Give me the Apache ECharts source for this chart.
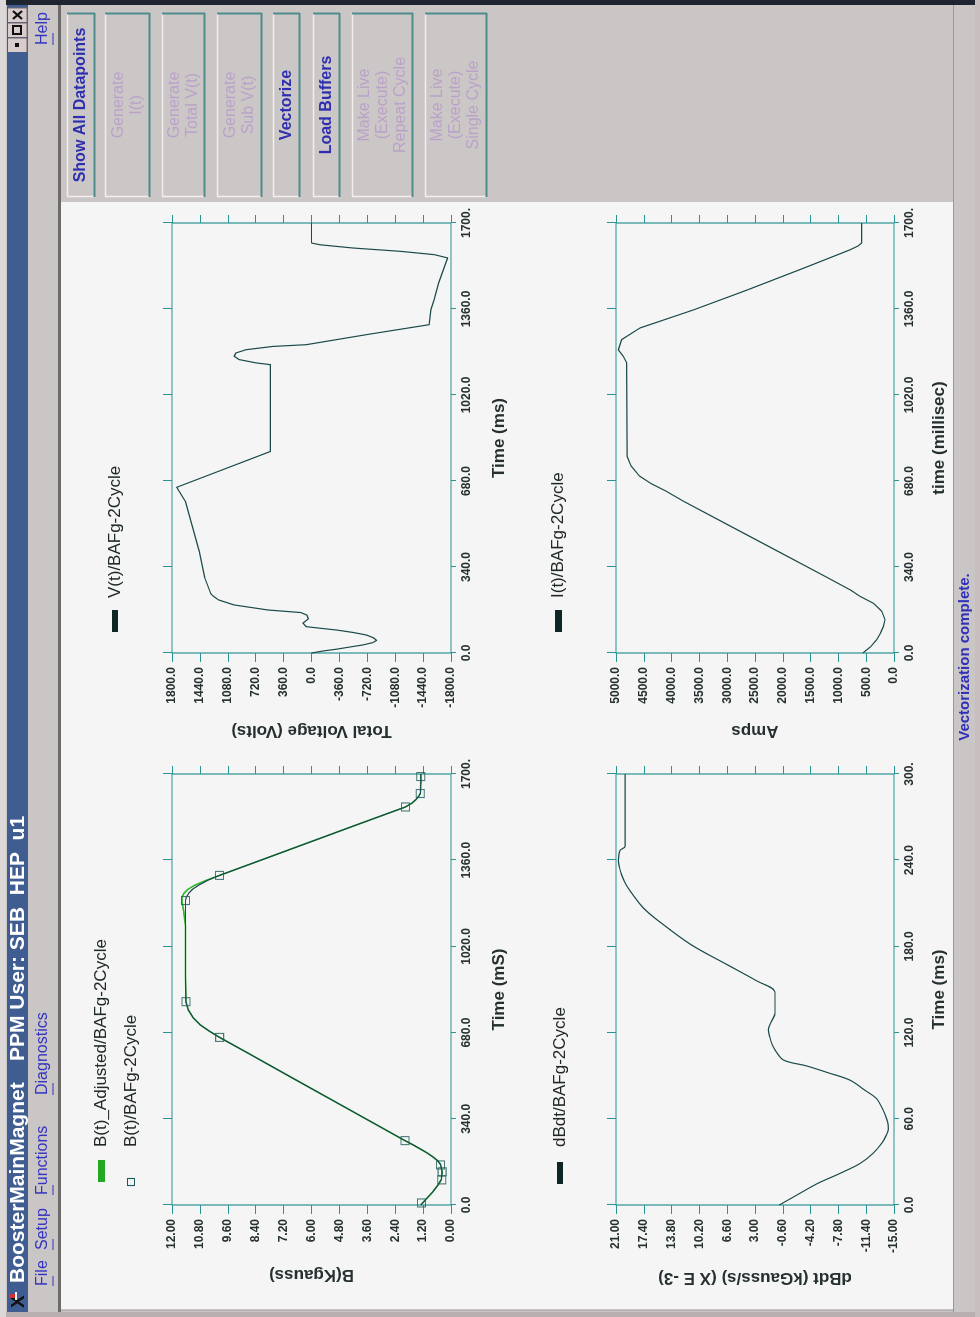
<!DOCTYPE html>
<html>
<head>
<meta charset="utf-8">
<title>BoosterMainMagnet</title>
<script src="https://cdn.jsdelivr.net/npm/echarts@6/dist/echarts.min.js"></script>
<style>
  html, body { margin: 0; padding: 0; width: 980px; height: 1317px; overflow: hidden; background: #cbc6c6; }
  /* the application window is laid out landscape and turned a quarter turn */
  #win { position: absolute; left: 0; top: 0; width: 1317px; height: 980px;
         transform-origin: 0 0; transform: translate(0px, 1317px) rotate(-90deg); }
</style>
</head>
<body>
<div id="win"></div>
<script>
// ---------------- data ----------------
// B(t) field (kGauss) versus time (ms)
const bTime     = [0, 20, 50, 80, 100, 130, 160, 175, 190, 205, 220, 237, 254, 400, 500, 600, 661, 685, 710, 740, 770, 802, 900, 1000, 1100, 1160, 1201, 1215, 1230, 1245, 1260, 1280, 1300, 1400, 1500, 1570, 1585, 1600, 1612, 1623, 1660, 1700];
const bField    = [1.30, 1.10, 0.80, 0.55, 0.42, 0.38, 0.45, 0.58, 0.78, 1.02, 1.30, 1.63, 1.98, 4.84, 6.80, 8.75, 9.95, 10.38, 10.78, 11.10, 11.30, 11.40, 11.42, 11.42, 11.42, 11.42, 11.42, 11.38, 11.28, 11.12, 10.88, 10.48, 9.96, 7.00, 4.04, 1.96, 1.68, 1.50, 1.39, 1.32, 1.30, 1.30];
const bAdjField = [1.30, 1.10, 0.80, 0.55, 0.42, 0.38, 0.45, 0.58, 0.78, 1.02, 1.30, 1.63, 1.98, 4.84, 6.80, 8.75, 9.95, 10.38, 10.78, 11.10, 11.30, 11.40, 11.42, 11.42, 11.42, 11.50, 11.58, 11.56, 11.48, 11.32, 11.05, 10.55, 9.96, 7.00, 4.04, 1.96, 1.68, 1.50, 1.39, 1.32, 1.30, 1.30];
// B(t) breakpoints
const bPointTime  = [8, 99, 131, 158, 254, 661, 802, 1201, 1300, 1570, 1623, 1690];
const bPointField = [1.27, 0.40, 0.38, 0.45, 1.98, 9.95, 11.40, 11.42, 9.96, 1.96, 1.32, 1.30];

// V(t) total voltage (Volts) versus time (ms)
const vTime = [0, 8, 15, 24, 32, 41, 50, 60, 71, 81, 91, 104, 118, 135, 150, 160, 170, 190, 210, 225, 235, 300, 400, 500, 600, 655, 797, 1140, 1147, 1160, 1173, 1186, 1199, 1212, 1219, 1259, 1298, 1357, 1397, 1463, 1562, 1575, 1588, 1601, 1614, 1621, 1700];
const vVolt = [0, -150, -320, -500, -666, -790, -840, -800, -710, -540, -320, 67, 110, 40, 60, 140, 560, 1000, 1200, 1270, 1300, 1380, 1447, 1538, 1628, 1740, 530, 530, 716, 933, 998, 976, 846, 499, 65, -716, -1518, -1540, -1583, -1640, -1757, -1583, -1149, -542, -108, 0, 0];

// I(t) current (Amps) versus time (ms)
const iTime = [0, 25, 53, 80, 105, 132, 165, 197, 224, 250, 300, 400, 500, 600, 640, 670, 700, 740, 777, 1147, 1173, 1199, 1239, 1285, 1357, 1436, 1522, 1594, 1610, 1621, 1700];
const iAmps = [560, 420, 311, 240, 192, 162, 221, 372, 611, 790, 1214, 2071, 2929, 3786, 4100, 4370, 4580, 4730, 4800, 4808, 4868, 4958, 4898, 4568, 3600, 2630, 1620, 791, 640, 581, 581];

// dB/dt (kGauss/s, x E-3) versus time (ms)
const dTime = [0, 5, 14.7, 22, 28.9, 36, 43, 48, 52.9, 56, 60, 67, 74, 80, 86.9, 92, 96.8, 101, 108, 112, 116.6, 122, 128, 133.6, 147.7, 156, 167.5, 181.6, 198.6, 207, 215.6, 223, 229.8, 235, 239.7, 246.8, 249.6, 300];
const dRate = [-0.15, -1.8, -5.0, -8.0, -10.6, -12.3, -13.4, -13.95, -14.27, -14.25, -14.05, -13.5, -12.75, -11.2, -9.3, -6.5, -3.69, -0.67, 0.41, 0.80, 1.06, 1.27, 0.84, 0.41, 0.41, 2.78, 6.67, 11.4, 15.7, 17.5, 18.76, 19.7, 20.27, 20.55, 20.7, 20.48, 19.83, 19.83];

// tick values
const cycleTicks = [0, 340, 680, 1020, 1360, 1700];
const rampTicks  = [0, 60, 120, 180, 240, 300];
const bTicks = [0, 1.2, 2.4, 3.6, 4.8, 6, 7.2, 8.4, 9.6, 10.8, 12];
const vTicks = [-1800, -1440, -1080, -720, -360, 0, 360, 720, 1080, 1440, 1800];
const iTicks = [0, 500, 1000, 1500, 2000, 2500, 3000, 3500, 4000, 4500, 5000];
const dTicks = [-15, -11.4, -7.8, -4.2, -0.6, 3, 6.6, 10.2, 13.8, 17.4, 21];

// series names
const nameBAdj = 'B(t)_Adjusted/BAFg-2Cycle';
const nameB    = 'B(t)/BAFg-2Cycle';
const nameV    = 'V(t)/BAFg-2Cycle';
const nameI    = 'I(t)/BAFg-2Cycle';
const nameD    = 'dBdt/BAFg-2Cycle';

// ---------------- styling ----------------
const FONT   = '"Liberation Sans", Arial, sans-serif';
const FRAME  = '#2a9393';
const TRACE  = '#1b4a4a';
const INK    = '#263030';
const PANEL  = '#cbc6c6';
const PAPER  = '#f5f5f5';

const zip = (a, b) => a.map((t, k) => [t, b[k]]);

// plot rectangles (window coordinates)
const grids = [
  { left: 112, top: 172, width: 431, height: 279 },  // B(t)
  { left: 664, top: 172, width: 430, height: 279 },  // V(t)
  { left: 112, top: 616, width: 431, height: 278 },  // dBdt
  { left: 664, top: 616, width: 430, height: 278 }   // I(t)
];

const tickLabel = { color: INK, fontFamily: FONT, fontWeight: 'bold', fontSize: 12 };
const nameStyle = { color: INK, fontFamily: FONT, fontWeight: 'bold', fontSize: 17 };
const noLine = { show: false, onZero: false };

function timeAxes(g, max, ticks, name, gap) {
  const fmt = v => (v === max ? v.toFixed(0) + '.' : v.toFixed(1));
  return [
    { type: 'value', gridIndex: g, position: 'bottom', min: 0, max: max,
      axisLine: noLine, splitLine: { show: false },
      axisTick: { show: true, inside: false, length: 5, customValues: ticks, lineStyle: { color: FRAME } },
      axisLabel: Object.assign({ customValues: ticks, formatter: fmt, margin: 10, showMinLabel: true, showMaxLabel: true }, tickLabel),
      name: name, nameLocation: 'middle', nameGap: gap, nameTextStyle: nameStyle },
    { type: 'value', gridIndex: g, position: 'top', min: 0, max: max,
      axisLine: noLine, splitLine: { show: false },
      axisTick: { show: true, inside: false, length: 9, customValues: ticks, lineStyle: { color: FRAME } },
      axisLabel: { show: false } }
  ];
}

function valueAxes(g, min, max, ticks, digits, name, gap) {
  return [
    { type: 'value', gridIndex: g, position: 'left', min: min, max: max,
      axisLine: noLine, splitLine: { show: false },
      axisTick: { show: true, inside: false, length: 9, customValues: ticks, lineStyle: { color: FRAME } },
      axisLabel: Object.assign({ customValues: ticks, formatter: v => v.toFixed(digits), margin: 14, showMinLabel: true, showMaxLabel: true }, tickLabel),
      name: name, nameLocation: 'middle', nameGap: gap, nameRotate: 90, nameTextStyle: nameStyle },
    { type: 'value', gridIndex: g, position: 'right', min: min, max: max,
      axisLine: noLine, splitLine: { show: false },
      axisTick: { show: true, inside: false, length: 8, customValues: ticks, lineStyle: { color: FRAME } },
      axisLabel: { show: false } }
  ];
}

const xAxes = [].concat(
  timeAxes(0, 1700, cycleTicks, 'Time (mS)', 40),
  timeAxes(1, 1700, cycleTicks, 'Time (ms)', 40),
  timeAxes(2, 300, rampTicks, 'Time (ms)', 37),
  timeAxes(3, 1700, cycleTicks, 'time (millisec)', 37)
);
const yAxes = [].concat(
  valueAxes(0, 0, 12, bTicks, 2, 'B(Kgauss)', 61),
  valueAxes(1, -1800, 1800, vTicks, 1, 'Total Voltage (Volts)', 69),
  valueAxes(2, -15, 21, dTicks, 2, 'dBdt (kGauss/s) (X E -3)', 64),
  valueAxes(3, 0, 5000, iTicks, 1, 'Amps', 69)
);

function trace(name, axis, data, color, width, smooth) {
  return { name: name, type: 'line', xAxisIndex: axis, yAxisIndex: axis, data: data,
           symbol: 'none', smooth: smooth || false,
           lineStyle: { color: color, width: width, join: 'round' }, itemStyle: { color: color }, z: 3 };
}

const series = [
  trace(nameBAdj, 0, zip(bTime, bAdjField), '#2fb52f', 1.6),
  trace(nameB, 0, zip(bTime, bField), TRACE, 1.2),
  { name: nameB, type: 'scatter', xAxisIndex: 0, yAxisIndex: 0, data: zip(bPointTime, bPointField),
    symbol: 'rect', symbolSize: 8, z: 4,
    itemStyle: { color: 'rgba(0,0,0,0)', borderColor: '#1f5a5a', borderWidth: 1.1 } },
  trace(nameV, 2, zip(vTime, vVolt), TRACE, 1.2),
  trace(nameD, 4, zip(dTime, dRate), TRACE, 1.2, 0.35),
  trace(nameI, 6, zip(iTime, iAmps), TRACE, 1.2)
];

// ---------------- window furniture ----------------
const G = [];
const rect = (x, y, w, h, fill, z) => G.push({ type: 'rect', silent: true, z: z === undefined ? -5 : z,
  shape: { x: x, y: y, width: w, height: h }, style: { fill: fill } });
const seg = (x1, y1, x2, y2, stroke, lw, z) => G.push({ type: 'line', silent: true, z: z === undefined ? -4 : z,
  shape: { x1: x1, y1: y1, x2: x2, y2: y2 }, style: { stroke: stroke, lineWidth: lw || 1 } });
const label = (x, y, str, font, fill, align, z) => G.push({ type: 'text', silent: true, z: z === undefined ? 5 : z, x: x, y: y,
  style: { text: str, font: font, fill: fill, align: align || 'left', verticalAlign: 'middle',
           textAlign: align || 'left', textVerticalAlign: 'middle' } });

// frame and title bar
rect(0, 0, 1317, 980, PANEL, -9);
rect(0, 0, 5, 980, '#b9aeb0', -8);
rect(1312, 0, 5, 980, '#1e2530', -8);
rect(0, 0, 1317, 6, '#dcd8d8', -8);
rect(0, 975, 1317, 5, '#c8bebf', -8);
rect(5, 7, 1307, 21, '#3f5d90', -7);
label(34, 18, 'BoosterMainMagnet', 'bold 21px ' + FONT, '#ffffff');
label(256, 18, 'PPM User: SEB  HEP  u1', 'bold 21px ' + FONT, '#ffffff');
// window icon
label(9, 19, 'X', 'bold 19px ' + FONT, '#101010');
rect(19, 9, 4, 7, '#d03030', 6);
rect(17, 15, 8, 2, '#f0f0f0', 6);
// window controls
[[1265, 'min'], [1280, 'max'], [1295, 'close']].forEach(function (c) {
  rect(c[0], 8, 14, 19, '#d9cccc', -6);
  seg(c[0], 27, c[0] + 14, 27, '#7a6a6a', 1, -5);
  seg(c[0] + 14, 8, c[0] + 14, 27, '#7a6a6a', 1, -5);
  if (c[1] === 'min') rect(c[0] + 5, 15, 4, 4, '#101010', -4);
  if (c[1] === 'max') G.push({ type: 'rect', silent: true, z: -4, shape: { x: c[0] + 3, y: 13, width: 8, height: 8 },
                                style: { fill: 'none', stroke: '#101010', lineWidth: 2 } });
  if (c[1] === 'close') { seg(c[0] + 3, 13, c[0] + 11, 22, '#101010', 2, -4); seg(c[0] + 11, 13, c[0] + 3, 22, '#101010', 2, -4); }
});

// menu bar
const menuFont = '16px ' + FONT;
const MENU = '#3434c0';
[['File', 31, 10], ['Setup', 67, 11], ['Functions', 122, 10], ['Diagnostics', 222, 12], ['Help', 1272, 12]].forEach(function (m) {
  label(m[1], 43, m[0], menuFont, MENU);
  seg(m[1], 53, m[1] + m[2], 53, MENU, 1, 5);
});
rect(5, 58, 1307, 3, '#6e6a6a', -6);

// plotting paper
rect(7, 61, 1108, 892, PAPER, -6);
seg(7, 61, 7, 953, '#9a9494', 1, -5);

// status bar
rect(5, 953, 1307, 22, PANEL, -6);
seg(5, 953.5, 1312, 953.5, '#8f9a9a', 1, -5);
label(660, 965, 'Vectorization complete.', 'bold 15px ' + FONT, '#3030b8', 'center');

// command buttons
const buttons = [
  { y: 67,  h: 28, lines: ['Show All Datapoints'], on: true },
  { y: 105, h: 45, lines: ['Generate', 'I(t)'], on: false },
  { y: 162, h: 43, lines: ['Generate', 'Total V(t)'], on: false },
  { y: 217, h: 45, lines: ['Generate', 'Sub V(t)'], on: false },
  { y: 273, h: 27, lines: ['Vectorize'], on: true },
  { y: 313, h: 27, lines: ['Load Buffers'], on: true },
  { y: 352, h: 61, lines: ['Make Live', '(Execute)', 'Repeat Cycle'], on: false },
  { y: 425, h: 62, lines: ['Make Live', '(Execute)', 'Single Cycle'], on: false }
];
buttons.forEach(function (b) {
  const x0 = 1120, x1 = 1304, y0 = b.y, y1 = b.y + b.h;
  rect(x0, y0, x1 - x0, b.h, '#ccc7c7', -5);
  seg(x0, y0 + 0.5, x1, y0 + 0.5, '#f2eeee', 1.5, -4);
  seg(x0 + 0.5, y0, x0 + 0.5, y1, '#f2eeee', 1.5, -4);
  seg(x0, y1 - 0.5, x1, y1 - 0.5, '#4f8c8c', 2, -4);
  seg(x1 - 0.5, y0, x1 - 0.5, y1, '#4f8c8c', 2, -4);
  const cy = (y0 + y1) / 2, step = 18;
  b.lines.forEach(function (t, k) {
    const y = cy + (k - (b.lines.length - 1) / 2) * step;
    label(1212, y, t, b.on ? 'bold 16px ' + FONT : '16px ' + FONT, b.on ? '#2e2eae' : '#b9a2c8', 'center');
  });
});

// legends
const legendFont = '17px ' + FONT;
rect(135, 98, 22, 7, '#22a822', 5);
label(170, 101.5, nameBAdj, legendFont, '#202828');
G.push({ type: 'rect', silent: true, z: 5, shape: { x: 131.5, y: 127.5, width: 7, height: 7 },
         style: { fill: 'none', stroke: '#1f5a5a', lineWidth: 1.1 } });
label(170, 131, nameB, legendFont, '#202828');
rect(685, 112, 22, 6, '#0e2626', 5);
label(719, 115, nameV, legendFont, '#202828');
rect(133, 557, 22, 6, '#0e2626', 5);
label(170, 560, nameD, legendFont, '#202828');
rect(685, 555, 22, 7, '#0e2626', 5);
label(719, 558.5, nameI, legendFont, '#202828');

// ---------------- chart ----------------
const chart = echarts.init(document.getElementById('win'), null, { renderer: 'canvas', width: 1317, height: 980 });
chart.setOption({
  animation: false,
  backgroundColor: PANEL,
  grid: grids.map(g => Object.assign({ show: true, borderColor: FRAME, borderWidth: 1.2, backgroundColor: 'transparent', containLabel: false }, g)),
  xAxis: xAxes,
  yAxis: yAxes,
  series: series,
  graphic: { elements: G }
});
</script>
</body>
</html>
